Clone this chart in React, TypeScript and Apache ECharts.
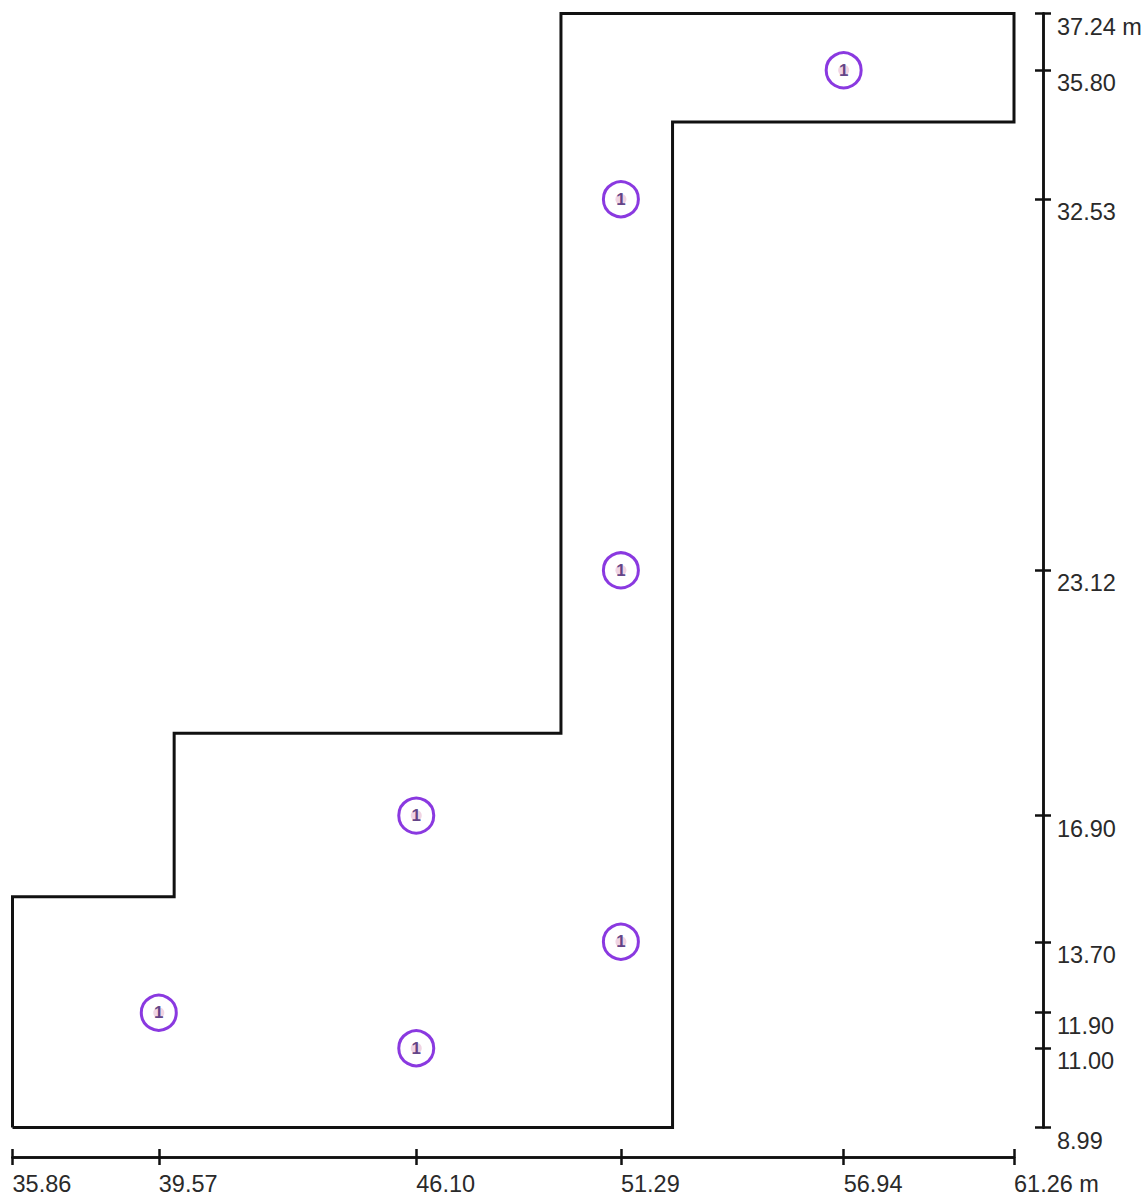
import React, { useEffect, useRef } from "react";
import * as echarts from "echarts";

const xTicks = [35.86, 39.57, 46.1, 51.29, 56.94, 61.26];
const yTicks = [8.99, 11.0, 11.9, 13.7, 16.9, 23.12, 32.53, 35.8, 37.24];
const outline = [
  [35.86, 8.99],
  [52.6, 8.99],
  [52.6, 34.49],
  [61.26, 34.49],
  [61.26, 37.24],
  [49.77, 37.24],
  [49.77, 18.99],
  [39.96, 18.99],
  [39.96, 14.84],
  [35.86, 14.84],
  [35.86, 8.99],
];
const points = [
  [39.57, 11.9],
  [46.1, 11.0],
  [46.1, 16.9],
  [51.29, 13.7],
  [51.29, 23.12],
  [51.29, 32.53],
  [56.94, 35.8],
];

const INK = "#111111";
const TEXT = "#2a2a2a";
const PURPLE = "#6d08d8";
const FONT = "Liberation Sans";

export default function App() {
  const ref = useRef<HTMLDivElement | null>(null);

  useEffect(() => {
    document.body.style.margin = "0";
    const chart = echarts.init(ref.current!, null, { renderer: "svg" });
    const xBase = {
      type: "value",
      min: xTicks[0],
      max: xTicks[xTicks.length - 1],
      position: "bottom",
      offset: 29.5,
      splitLine: { show: false },
      axisLine: { show: true, lineStyle: { color: INK, width: 2.5 } },
    };
    const yBase = {
      type: "value",
      min: yTicks[0],
      max: yTicks[yTicks.length - 1],
      position: "right",
      offset: 29,
      splitLine: { show: false },
      axisLine: { show: true, lineStyle: { color: INK, width: 2.5 } },
    };
    chart.setOption({
      animation: false,
      backgroundColor: "#ffffff",
      grid: { left: 12.5, top: 13.5, width: 1001.5, height: 1114 },
      xAxis: [
        {
          ...xBase,
          axisTick: { show: true, length: 8, lineStyle: { color: INK, width: 2.5 }, customValues: xTicks },
          axisLabel: {
            show: true,
            customValues: xTicks,
            align: "left",
            verticalAlign: "top",
            margin: 15,
            color: TEXT,
            fontFamily: FONT,
            fontSize: 23.5,
            formatter: (v: number) =>
              v === xTicks[xTicks.length - 1] ? v.toFixed(2) + " m" : v.toFixed(2),
          },
        },
        {
          ...xBase,
          axisTick: { show: true, inside: true, length: 8, lineStyle: { color: INK, width: 2.5 }, customValues: xTicks },
          axisLabel: { show: false },
        },
      ],
      yAxis: [
        {
          ...yBase,
          axisTick: { show: true, length: 8, lineStyle: { color: INK, width: 2.5 }, customValues: yTicks },
          axisLabel: {
            show: true,
            customValues: yTicks,
            align: "left",
            verticalAlign: "top",
            margin: 14,
            padding: [1, 0, 0, 0],
            color: TEXT,
            fontFamily: FONT,
            fontSize: 23.5,
            formatter: (v: number) =>
              v === yTicks[yTicks.length - 1] ? v.toFixed(2) + " m" : v.toFixed(2),
          },
        },
        {
          ...yBase,
          axisTick: { show: true, inside: true, length: 8, lineStyle: { color: INK, width: 2.5 }, customValues: yTicks },
          axisLabel: { show: false },
        },
      ],
      series: [
        {
          type: "line",
          data: outline,
          showSymbol: false,
          symbol: "none",
          clip: false,
          lineStyle: { color: INK, width: 3, join: "miter" },
          silent: true,
        },
        {
          type: "scatter",
          data: points,
          symbol: "circle",
          symbolSize: 11,
          clip: false,
          itemStyle: { color: "#ecc9dc" },
          silent: true,
        },
        {
          type: "scatter",
          data: points,
          symbol: "circle",
          symbolSize: 35,
          clip: false,
          itemStyle: { color: "transparent", borderColor: PURPLE, borderWidth: 3 },
          label: {
            show: true,
            position: "inside",
            formatter: "1",
            color: "#3d1a6e",
            fontFamily: FONT,
            fontSize: 17,
            fontWeight: "bold",
          },
          silent: true,
        },
      ],
    });
    return () => chart.dispose();
  }, []);

  return <div ref={ref} style={{ width: 1147, height: 1198 }} />;
}
